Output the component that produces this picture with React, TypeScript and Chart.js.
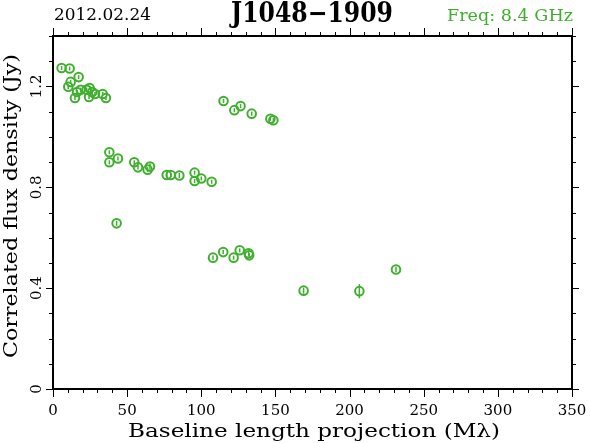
import { useEffect, useRef } from "react";
import { Chart, registerables } from "chart.js";

Chart.register(...registerables);

const baselines = [
  5.8, 11.2, 17.3, 11.9, 10.3, 14.8, 16.2, 18.7, 22.7, 24.7, 24.3, 26.5, 28.3, 33.5, 35.7,
  115.0, 122.3, 126.5, 134.0, 146.6, 148.6,
  38.0, 38.0, 43.8, 54.8, 57.3, 63.8, 65.4, 76.7, 79.4, 85.2, 95.5, 95.5, 100.0, 107.0,
  42.9,
  107.9, 114.8, 121.8, 125.9, 131.9, 132.3,
  169.0, 206.6, 231.3,
];
const fluxes = [
  1.273, 1.271, 1.237, 1.218, 1.199, 1.154, 1.178, 1.187, 1.187, 1.194, 1.158, 1.178, 1.17, 1.17, 1.154,
  1.142, 1.106, 1.122, 1.092, 1.072, 1.066,
  0.939, 0.899, 0.914, 0.899, 0.879, 0.87, 0.882, 0.849, 0.849, 0.847, 0.858, 0.825, 0.835, 0.822,
  0.657,
  0.521, 0.543, 0.521, 0.55, 0.538, 0.53,
  0.39, 0.388, 0.474,
];
const errors = [
  0.008, 0.008, 0.008, 0.008, 0.01, 0.008, 0.008, 0.008, 0.008, 0.008, 0.008, 0.008, 0.008, 0.008, 0.008,
  0.008, 0.008, 0.008, 0.008, 0.008, 0.008,
  0.008, 0.008, 0.008, 0.008, 0.008, 0.01, 0.012, 0.01, 0.008, 0.01, 0.008, 0.008, 0.008, 0.008,
  0.01,
  0.008, 0.008, 0.008, 0.008, 0.01, 0.008,
  0.012, 0.028, 0.01,
];

const xTickValues = [0, 50, 100, 150, 200, 250, 300, 350];
const xTickLabels = ["0", "50", "100", "150", "200", "250", "300", "350"];
const yTickValues = [0, 0.4, 0.8, 1.2];
const yTickLabels = ["0", "0.4", "0.8", "1.2"];

const dateText = "2012.02.24";
const sourceName = "J1048\u22121909";
const freqText = "Freq: 8.4 GHz";
const xTitle = "Baseline length projection (M\u03bb)";
const yTitle = "Correlated flux density (Jy)";

const GREEN = "#3fb02e";
const SERIF = "'DejaVu Serif', 'Liberation Serif', serif";

function fitText(ctx: CanvasRenderingContext2D, text: string, x: number, y: number, width: number, align: CanvasTextAlign) {
  const w = ctx.measureText(text).width;
  const s = width / w;
  ctx.save();
  ctx.translate(x, y);
  ctx.scale(s, 1);
  ctx.textAlign = align;
  ctx.fillText(text, 0, 0);
  ctx.restore();
}

const errorBarPlugin = {
  id: "errorBars",
  beforeDatasetsDraw(chart: any) {
    const ctx = chart.ctx as CanvasRenderingContext2D;
    const xs = chart.scales.x;
    const ys = chart.scales.y;
    ctx.save();
    ctx.strokeStyle = GREEN;
    ctx.lineWidth = 1.5;
    for (let i = 0; i < baselines.length; i++) {
      const px = xs.getPixelForValue(baselines[i]);
      const y1 = ys.getPixelForValue(fluxes[i] - errors[i]);
      const y2 = ys.getPixelForValue(fluxes[i] + errors[i]);
      ctx.beginPath();
      ctx.moveTo(px, y1);
      ctx.lineTo(px, y2);
      ctx.stroke();
    }
    ctx.restore();
  },
};

const framePlugin = {
  id: "frameAxes",
  afterDraw(chart: any) {
    const ctx = chart.ctx as CanvasRenderingContext2D;
    const { left, right, top, bottom } = chart.chartArea;
    const xs = chart.scales.x;
    const ys = chart.scales.y;
    ctx.save();
    ctx.strokeStyle = "#000";
    ctx.fillStyle = "#000";
    // ticks
    ctx.lineWidth = 1;
    ctx.beginPath();
    for (let v = 0; v <= 350; v += 10) {
      const px = Math.round(xs.getPixelForValue(v)) + 0.5;
      const len = v % 50 === 0 ? 8 : 4;
      ctx.moveTo(px, bottom);
      ctx.lineTo(px, bottom + len);
      ctx.moveTo(px, top);
      ctx.lineTo(px, top - len);
    }
    for (let k = 0; k <= 14; k++) {
      const v = k / 10;
      const py = Math.round(ys.getPixelForValue(v)) + 0.5;
      const len = k % 4 === 0 ? 7 : 4;
      ctx.moveTo(left, py);
      ctx.lineTo(left - len, py);
      ctx.moveTo(right, py);
      ctx.lineTo(right + len, py);
    }
    ctx.stroke();
    // frame
    ctx.lineWidth = 2;
    ctx.strokeRect(left, top, right - left, bottom - top);

    // x tick labels
    ctx.font = `15px ${SERIF}`;
    ctx.textBaseline = "alphabetic";
    ctx.textAlign = "center";
    xTickValues.forEach((v, i) => {
      ctx.fillText(xTickLabels[i], xs.getPixelForValue(v), 415);
    });
    // y tick labels rotated
    yTickValues.forEach((v, i) => {
      ctx.save();
      ctx.translate(41, ys.getPixelForValue(v));
      ctx.rotate(-Math.PI / 2);
      ctx.textAlign = "center";
      ctx.fillText(yTickLabels[i], 0, 0);
      ctx.restore();
    });

    // axis titles
    ctx.font = `19px ${SERIF}`;
    fitText(ctx, xTitle, 128, 437, 372, "left");
    ctx.save();
    ctx.translate(17, 206);
    ctx.rotate(-Math.PI / 2);
    fitText(ctx, yTitle, 0, 0, 304, "center");
    ctx.restore();

    // header
    ctx.font = `17px ${SERIF}`;
    fitText(ctx, dateText, 54, 20, 97, "left");
    ctx.font = `bold 27px ${SERIF}`;
    fitText(ctx, sourceName, 312, 22, 162, "center");
    ctx.fillStyle = GREEN;
    ctx.font = `17px ${SERIF}`;
    fitText(ctx, freqText, 573, 21, 126, "right");
    ctx.restore();
  },
};

export default function App() {
  const ref = useRef<HTMLCanvasElement | null>(null);
  useEffect(() => {
    document.body.style.margin = "0";
    const canvas = ref.current;
    if (!canvas) return;
    const chart = new Chart(canvas, {
      type: "scatter",
      data: {
        datasets: [
          {
            data: baselines.map((b, i) => ({ x: b, y: fluxes[i] })),
            pointStyle: "circle",
            pointRadius: 4.3,
            pointBorderWidth: 2,
            pointBorderColor: GREEN,
            pointBackgroundColor: "rgba(0,0,0,0)",
            showLine: false,
          },
        ],
      },
      options: {
        animation: false,
        responsive: false,
        devicePixelRatio: 1,
        events: [],
        layout: { padding: { left: 53, top: 36, right: 18, bottom: 54 } },
        plugins: { legend: { display: false }, tooltip: { enabled: false }, title: { display: false } },
        scales: {
          x: { type: "linear", min: 0, max: 350, display: false },
          y: { type: "linear", min: 0, max: 1.4, display: false },
        },
      },
      plugins: [errorBarPlugin, framePlugin],
    });
    return () => chart.destroy();
  }, []);
  return <canvas ref={ref} width={590} height={443} style={{ display: "block", width: 590, height: 443 }} />;
}
